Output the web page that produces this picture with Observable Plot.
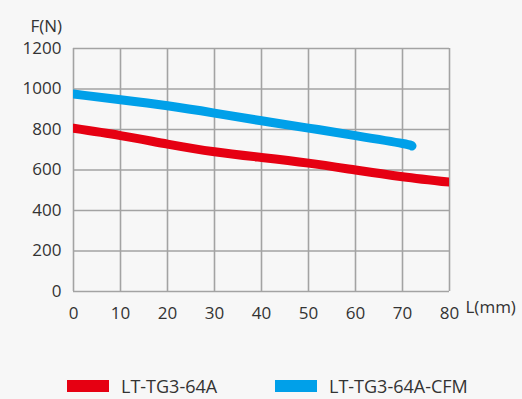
<!DOCTYPE html>
<html>
<head>
<meta charset="utf-8">
<script src="https://cdn.jsdelivr.net/npm/d3@7"></script>
<script src="https://cdn.jsdelivr.net/npm/@observablehq/plot@0.6"></script>
<style>
  html, body { margin: 0; padding: 0; background: #f7f7f7; }
  body { width: 522px; height: 399px; overflow: hidden; font-family: "Open Sans", "Noto Sans", sans-serif; color: #333; }
  #legend { position: relative; height: 69px; }
  .item { position: absolute; top: 44px; height: 24px; line-height: 24px; display: flex; align-items: center; font-size: 18px; color: #333; white-space: nowrap; }
  .sw { width: 42px; height: 12px; margin-right: 12px; }
</style>
</head>
<body>
<div id="chart"></div>
<div id="legend"></div>
<script>
const seriesNames = ["LT-TG3-64A", "LT-TG3-64A-CFM"];
const seriesColors = ["#e60012", "#00a0e9"];
const redL = [0, 10, 20, 30, 40, 50, 60, 70, 80];
const redF = [806, 770, 728, 690, 662, 634, 600, 567, 540];
const blueL = [0, 10, 20, 30, 40, 50, 60, 70, 72];
const blueF = [975, 947, 917, 881, 843, 807, 770, 731, 718];
const xTicks = [0, 10, 20, 30, 40, 50, 60, 70, 80];
const yTicks = [0, 200, 400, 600, 800, 1000, 1200];

const data = [
  ...redL.map((l, i) => ({L: l, F: redF[i], s: seriesNames[0]})),
  ...blueL.map((l, i) => ({L: l, F: blueF[i], s: seriesNames[1]}))
];

const chart = Plot.plot({
  width: 522,
  height: 330,
  marginLeft: 73,
  marginRight: 73,
  marginTop: 48,
  marginBottom: 39,
  style: {background: "#f7f7f7", fontFamily: "'Open Sans', 'Noto Sans', sans-serif", fontSize: "17px", color: "#333"},
  x: {domain: [0, 80], ticks: xTicks},
  y: {domain: [0, 1200], ticks: yTicks},
  color: {domain: seriesNames, range: seriesColors},
  marks: [
    Plot.ruleX(xTicks, {stroke: "#a3a3a3", strokeWidth: 1.6}),
    Plot.ruleY(yTicks, {stroke: "#a3a3a3", strokeWidth: 1.6}),
    Plot.axisX({ticks: xTicks, tickSize: 0, tickPadding: 15, label: null, fontSize: 17, tickFormat: d => String(d)}),
    Plot.axisY({ticks: yTicks, tickSize: 0, tickPadding: 12, label: null, fontSize: 17, tickFormat: d => String(d)}),
    Plot.line(data, {x: "L", y: "F", z: "s", stroke: "s", strokeWidth: 9, curve: "natural", strokeLinecap: "round", clip: true}),
    Plot.text(["F(N)"], {frameAnchor: "top-left", text: d => d, dx: -43, dy: -29, textAnchor: "start", fontSize: 17, fill: "#333"}),
    Plot.text(["L(mm)"], {frameAnchor: "bottom-right", text: d => d, dx: 16, dy: 21, textAnchor: "start", fontSize: 17, fill: "#333"})
  ]
});
document.getElementById("chart").appendChild(chart);

const legend = document.getElementById("legend");
const lefts = [67, 275];
seriesNames.forEach((n, i) => {
  const it = document.createElement("div");
  it.className = "item";
  it.style.left = lefts[i] + "px";
  const sw = document.createElement("span");
  sw.className = "sw";
  sw.style.background = seriesColors[i];
  const t = document.createElement("span");
  t.textContent = n;
  it.appendChild(sw);
  it.appendChild(t);
  legend.appendChild(it);
});
</script>
</body>
</html>
